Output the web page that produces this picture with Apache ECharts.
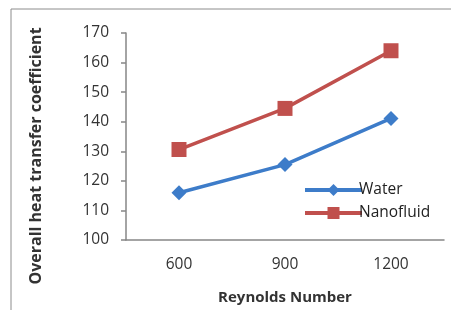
<!DOCTYPE html>
<html>
<head>
<meta charset="UTF-8"/>
<title></title>
<script src="https://cdn.jsdelivr.net/npm/echarts@6/dist/echarts.min.js" type="text/javascript"></script>
<style>
  html, body { margin: 0; padding: 0; background: #fff; }
  #placeholder { width: 451px; height: 310px; }
</style>
</head>
<body>
<div id="placeholder"></div>
<script type="text/javascript">
var reynolds = ['600', '900', '1200'];
var water = [116.0, 125.5, 141.1];
var nanofluid = [130.6, 144.5, 164.0];
var yTicks = [100, 170, 10];

var myChart = echarts.init(document.getElementById('placeholder'));

var font = 'Open Sans';
var option = {
    backgroundColor: '#fff',
    animation: false,
    graphic: [{
        type: 'rect',
        shape: { x: 11, y: 9, width: 460, height: 320 },
        style: { fill: 'none', stroke: '#8c8c8c', lineWidth: 1 }
    }, {
        // y title sits lower than the plot centre in the original
        type: 'text',
        x: 36,
        y: 156,
        rotation: Math.PI / 2,
        style: {
            text: 'Overall heat transfer coefficient',
            font: 'bold 16px "Open Sans"',
            fill: '#333',
            align: 'center',
            verticalAlign: 'middle'
        }
    }],
    grid: { left: 126, top: 33, right: 7, bottom: 70 },
    legend: {
        orient: 'vertical',
        left: 298,
        top: 177,
        itemWidth: 57,
        itemHeight: 15,
        itemGap: 7,
        lineStyle: { width: 4 },
        data: ['Water', 'Nanofluid'],
        textStyle: { fontFamily: font, fontSize: 15.5, color: '#222', padding: [0, 0, 0, -8] }
    },
    xAxis: {
        type: 'category',
        data: reynolds,
        name: 'Reynolds Number',
        nameLocation: 'middle',
        nameGap: 50,
        nameTextStyle: { fontFamily: font, fontSize: 15, fontWeight: 'bold', color: '#333' },
        axisLine: { lineStyle: { color: '#868686', width: 1.5 } },
        axisTick: { length: 5, lineStyle: { color: '#868686', width: 1.5 } },
        axisLabel: { fontFamily: font, fontSize: 15.5, color: '#333', margin: 17 }
    },
    yAxis: {
        type: 'value',
        min: yTicks[0],
        max: yTicks[1],
        interval: yTicks[2],
        axisLine: { show: true, lineStyle: { color: '#868686', width: 1.5 } },
        axisTick: { show: true, length: 5, lineStyle: { color: '#868686', width: 1.5 } },
        axisLabel: { fontFamily: font, fontSize: 15.5, color: '#333', margin: 17 },
        splitLine: { show: false }
    },
    series: [
        {
            name: 'Water',
            type: 'line',
            data: water,
            symbol: 'diamond',
            symbolSize: 15,
            lineStyle: { color: '#3d7cc9', width: 3.5 },
            itemStyle: { color: '#3d7cc9' }
        },
        {
            name: 'Nanofluid',
            type: 'line',
            data: nanofluid,
            symbol: 'rect',
            symbolSize: 15,
            lineStyle: { color: '#c0504d', width: 3.5 },
            itemStyle: { color: '#c0504d' }
        }
    ]
};
myChart.setOption(option, true);
</script>
</body>
</html>
